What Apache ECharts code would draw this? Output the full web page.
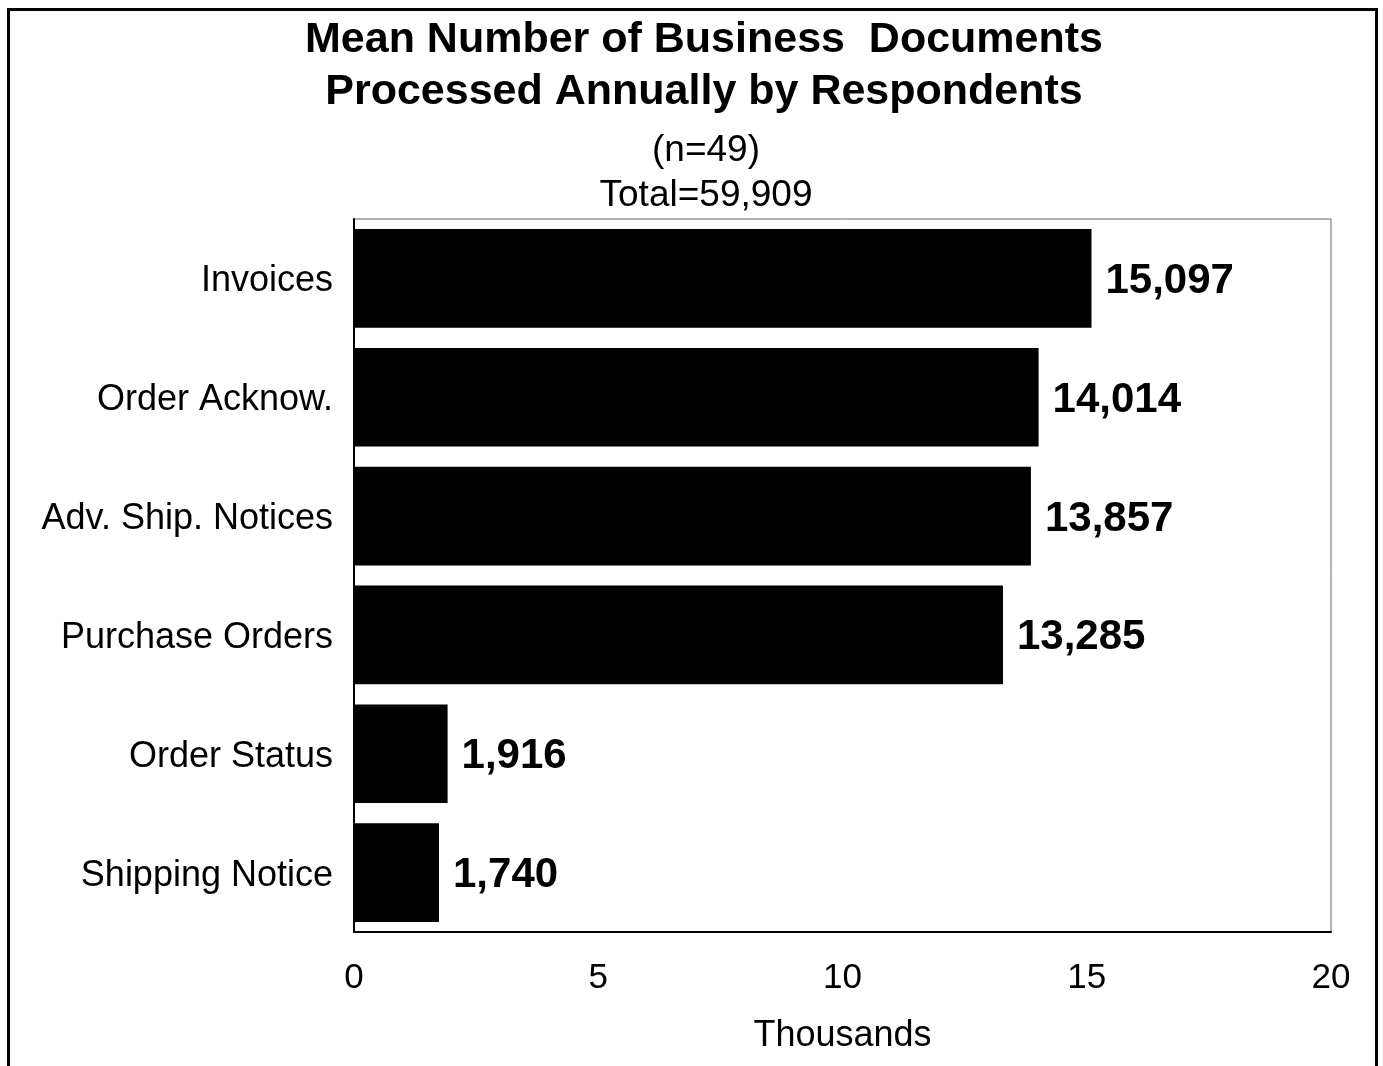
<!DOCTYPE html>
<html>
<head>
<meta charset="utf-8">
<script src="https://cdn.jsdelivr.net/npm/echarts@6/dist/echarts.min.js"></script>
<style>
html,body{margin:0;padding:0;background:#fff;}
#c{width:1383px;height:1066px;}
</style>
</head>
<body>
<div id="c"></div>
<script>
const categories = ["Invoices", "Order Acknow.", "Adv. Ship. Notices", "Purchase Orders", "Order Status", "Shipping Notice"];
const documentCounts = [15097, 14014, 13857, 13285, 1916, 1740];
const xTicks = [0, 5, 10, 15, 20];
const titleLines = ["Mean Number of Business  Documents", "Processed Annually by Respondents"];
const subtitleLines = ["(n=49)", "Total=59,909"];
const axisName = "Thousands";

const FONT = "Liberation Sans, Arial, sans-serif";
const chart = echarts.init(document.getElementById('c'), null, {renderer: 'canvas'});

const option = {
  backgroundColor: '#fff',
  animation: false,
  title: [
    {text: titleLines.join('\n'), left: 699, top: 9, textAlign: 'center',
     textStyle: {fontFamily: FONT, fontSize: 43, fontWeight: 'bold', color: '#000', lineHeight: 52}},
    {text: subtitleLines.join('\n'), left: 701, top: 123, textAlign: 'center',
     textStyle: {fontFamily: FONT, fontSize: 37, fontWeight: 'normal', color: '#000', lineHeight: 45}}
  ],
  graphic: [
    {type: 'rect', shape: {x: 8.5, y: 9.5, width: 1368, height: 1100}, style: {fill: 'none', stroke: '#000', lineWidth: 3}, z: 100}
  ],
  grid: {left: 354, top: 219, right: 52, bottom: 134, show: true, borderColor: '#666', borderWidth: 1, containLabel: false},
  xAxis: {
    type: 'value', min: xTicks[0], max: xTicks[xTicks.length - 1], interval: xTicks[1] - xTicks[0],
    name: axisName, nameLocation: 'middle', nameGap: 86,
    nameTextStyle: {fontFamily: FONT, fontSize: 36, color: '#000'},
    axisLine: {show: true, lineStyle: {color: '#000', width: 2}},
    axisTick: {show: false},
    splitLine: {show: false},
    axisLabel: {fontFamily: FONT, fontSize: 35, color: '#000', margin: 29}
  },
  yAxis: {
    type: 'category', data: categories, inverse: true,
    axisLine: {show: true, lineStyle: {color: '#000', width: 2}},
    axisTick: {show: false},
    axisLabel: {
      color: '#000', margin: 21,
      formatter: v => '{c|' + v + '}',
      rich: {c: {fontFamily: FONT, fontSize: 36, color: '#000', padding: [6, 0, 0, 0]}}
    }
  },
  series: [{
    type: 'bar',
    data: documentCounts.map(v => v / 1000),
    barCategoryGap: '17%',
    itemStyle: {color: '#000'},
    label: {
      show: true, position: 'right', distance: 14, offset: [0, 3],
      fontFamily: FONT, fontSize: 42, fontWeight: 'bold', color: '#000',
      formatter: p => documentCounts[p.dataIndex].toLocaleString('en-US')
    }
  }]
};
chart.setOption(option);
</script>
</body>
</html>
